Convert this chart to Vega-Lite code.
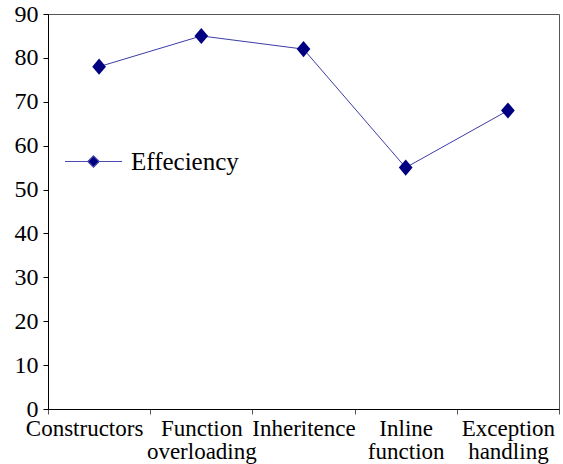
{
  "$schema": "https://vega.github.io/schema/vega-lite/v6.json",
  "autosize": "none",
  "padding": {"left": 48, "top": 14, "right": 4, "bottom": 55},
  "width": 511,
  "height": 395,
  "config": {
    "view": {"stroke": "#555555", "strokeWidth": 1},
    "font": "Liberation Serif"
  },
  "data": {
    "values": [
      {"topic": "Constructors", "value": 78, "series": "Effeciency"},
      {"topic": "Function overloading", "value": 85, "series": "Effeciency"},
      {"topic": "Inheritence", "value": 82, "series": "Effeciency"},
      {"topic": "Inline function", "value": 55, "series": "Effeciency"},
      {"topic": "Exception handling", "value": 68, "series": "Effeciency"}
    ]
  },
  "encoding": {
    "x": {
      "field": "topic",
      "type": "nominal",
      "sort": null,
      "scale": {"type": "band", "paddingInner": 0, "paddingOuter": 0},
      "axis": {
        "title": null,
        "labelAngle": 0,
        "labelFont": "Liberation Serif",
        "labelFontSize": 23,
        "labelColor": "#000000",
        "labelExpr": "split(datum.label, ' ')",
        "labelLineHeight": 23,
        "labelPadding": 3,
        "labelLimit": 200,
        "labelOverlap": false,
        "labelOffset": {"condition": {"test": "datum.value === 'Constructors'", "value": -15}, "value": 0},
        "tickBand": "extent",
        "tickSize": 5,
        "tickColor": "#555555",
        "domainColor": "#000000",
        "grid": false
      }
    },
    "y": {
      "field": "value",
      "type": "quantitative",
      "scale": {"domain": [0, 90], "nice": false},
      "axis": {
        "title": null,
        "values": [0, 10, 20, 30, 40, 50, 60, 70, 80, 90],
        "labelFont": "Liberation Serif",
        "labelFontSize": 24,
        "labelColor": "#000000",
        "labelPadding": 5,
        "tickSize": 5,
        "tickColor": "#000000",
        "domainColor": "#000000",
        "grid": false
      }
    }
  },
  "layer": [
    {
      "mark": {"type": "line", "color": "#3c3ca8", "strokeWidth": 1}
    },
    {
      "mark": {
        "type": "point",
        "filled": true,
        "opacity": 1,
        "shape": "M0,-1L0.85,0L0,1L-0.85,0Z",
        "size": 260,
        "color": "#000080"
      },
      "encoding": {
        "color": {
          "field": "series",
          "type": "nominal",
          "scale": {"range": ["#000080"]},
          "legend": {
            "title": null,
            "orient": "none",
            "legendX": 16,
            "legendY": 118,
            "padding": 0,
            "symbolType": "M-1,0L-0.2,0M0.2,0L1,0M0,-0.2L0.2,0L0,0.2L-0.2,0Z",
            "symbolSize": 3249,
            "symbolStrokeColor": "#4a4ab0",
            "symbolStrokeWidth": 1.2,
            "symbolFillColor": "#000080",
            "labelFont": "Liberation Serif",
            "labelFontSize": 25,
            "labelColor": "#000000",
            "labelOffset": 8
          }
        }
      }
    }
  ]
}
